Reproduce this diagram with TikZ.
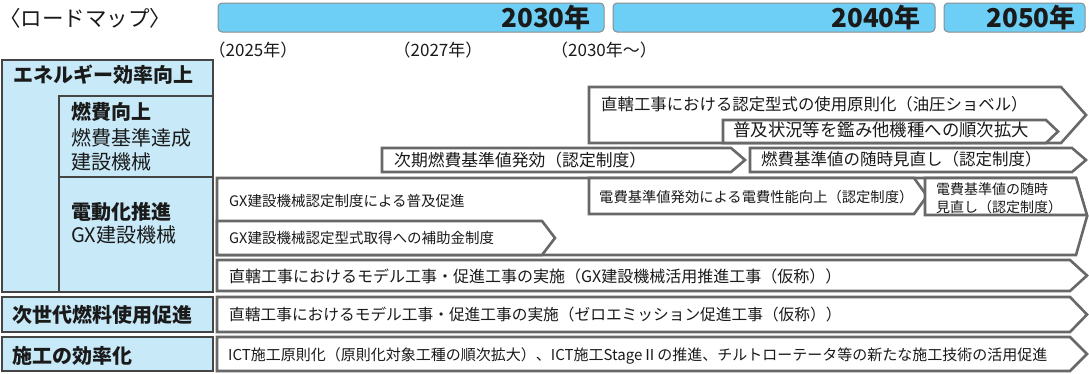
\documentclass[tikz,border=0pt]{standalone}
\usepackage{fontspec}
\setmainfont{Noto Sans CJK JP}
\usetikzlibrary{calc}
\definecolor{barblue}{HTML}{6DCFF6}
\definecolor{boxblue}{HTML}{C8E9F8}
\definecolor{barline}{HTML}{8C8C8C}
\definecolor{boxline}{HTML}{454545}
\definecolor{arrline}{HTML}{686868}
\definecolor{txt}{HTML}{1A1A1A}
\newcommand\fsz[1]{\fontsize{#1}{#1}\selectfont}
\newcommand\parrow[6][]{%
  \pgfmathsetmacro\pym{(#4+#5)/2}%
  \pgfmathsetmacro\pxc{#3-#6}%
  \draw[arr,#1] (#2,#4) -- (\pxc,#4) -- (#3,\pym) -- (\pxc,#5) -- (#2,#5) -- cycle;}
\tikzset{
  bar/.style={draw=barline, line width=1pt, fill=barblue, rounded corners=4pt},
  lbox/.style={draw=boxline, line width=2.4pt, fill=boxblue},
  arr/.style={draw=arrline, line width=2.6pt, fill=white, line join=miter},
  lbl/.style={anchor=west, inner sep=0pt, text=txt},
  bartxt/.style={anchor=east, inner sep=0pt, text=txt, font=\fsz{26}\bfseries},
  yr/.style={inner sep=0pt, text=txt, font=\fsz{17}},
}
\begin{document}
\begin{tikzpicture}[x=1pt,y=-1pt]
\useasboundingbox (0,0) rectangle (1089,373);
% title
\node[lbl, font=\fsz{21.5}] (title) at (-1,18) {〈ロードマップ〉};
% time bars
\draw[bar] (218,3) rectangle (604,32);
\draw[bar] (613,3) rectangle (935,32);
\draw[bar] (944,3) rectangle (1085,32);
\node[bartxt] (y2030) at (591,18) {2030年};
\node[bartxt] (y2040) at (921,18) {2040年};
\node[bartxt] (y2050) at (1076,18) {2050年};
\node[yr] (l2025) at (253,50) {（2025年）};
\node[yr] (l2027) at (438,50) {（2027年）};
\node[yr] (l2030) at (604,50) {（2030年～）};
% left column
\draw[lbox] (2,60) rectangle (213,292);
\draw[lbox] (59,96) rectangle (213,177);
\draw[lbox] (59,177) rectangle (213,292);
\draw[lbox] (2,297) rectangle (213,332);
\draw[lbox] (2,337) rectangle (213,371);
\node[lbl, font=\fsz{20}\bfseries] (c1) at (13,75) {エネルギー効率向上};
\node[lbl, font=\fsz{20}\bfseries] (c2) at (71,112) {燃費向上};
\node[lbl, font=\fsz{20}] (c3) at (71,138) {燃費基準達成};
\node[lbl, font=\fsz{20}] (c4) at (71,162) {建設機械};
\node[lbl, font=\fsz{20}\bfseries] (c5) at (71,212) {電動化推進};
\node[lbl, font=\fsz{20}] (c6) at (71,235) {GX建設機械};
\node[lbl, font=\fsz{20}\bfseries] (c7) at (12,315) {次世代燃料使用促進};
\node[lbl, font=\fsz{20}\bfseries] (c8) at (12,356) {施工の効率化};
% arrows
\parrow{589}{1086}{87}{143}{25}
\parrow{723}{1058}{120}{143}{12}
\parrow{382}{745}{148}{172}{14}
\parrow{750}{1086}{148}{172}{14}
\parrow{217}{1087}{178}{255}{11}
\parrow{217}{555}{221}{255}{13}
\parrow{589}{927}{178}{214}{13}
\draw[arr] (925,178) -- (1076,178) -- (1087,215) -- (925,215) -- cycle;
\parrow{217}{1087}{260}{291}{17}
\parrow{217}{1087}{297}{332}{17}
\parrow{217}{1087}{337}{371}{17}
% arrow texts
\node[lbl, font=\fsz{16.4}] (t1) at (601,104) {直轄工事における認定型式の使用原則化（油圧ショベル）};
\node[lbl, font=\fsz{17.4}] (t2) at (733,130) {普及状況等を鑑み他機種への順次拡大};
\node[lbl, font=\fsz{16.8}] (t3) at (394,160) {次期燃費基準値発効（認定制度）};
\node[lbl, font=\fsz{16.5}] (t4) at (761,159) {燃費基準値の随時見直し（認定制度）};
\node[lbl, font=\fsz{14.5}] (t5) at (229,201) {GX建設機械認定制度による普及促進};
\node[lbl, font=\fsz{14.5}] (t6) at (229,238) {GX建設機械認定型式取得への補助金制度};
\node[lbl, font=\fsz{14.3}] (t7) at (599,197) {電費基準値発効による電費性能向上（認定制度）};
\node[lbl, font=\fontsize{14}{18}\selectfont, align=left] (t8) at (936,198) {電費基準値の随時\\見直し（認定制度）};
\node[lbl, font=\fsz{16}] (t9) at (229,276) {直轄工事におけるモデル工事・促進工事の実施（GX建設機械活用推進工事（仮称））};
\node[lbl, font=\fsz{15.7}] (t10) at (229,315) {直轄工事におけるモデル工事・促進工事の実施（ゼロエミッション促進工事（仮称））};
\node[lbl, font=\fsz{15}] (t11) at (228,356) {ICT施工原則化（原則化対象工種の順次拡大）、ICT施工StageⅡの推進、チルトローテータ等の新たな施工技術の活用促進};
\end{tikzpicture}
\end{document}
